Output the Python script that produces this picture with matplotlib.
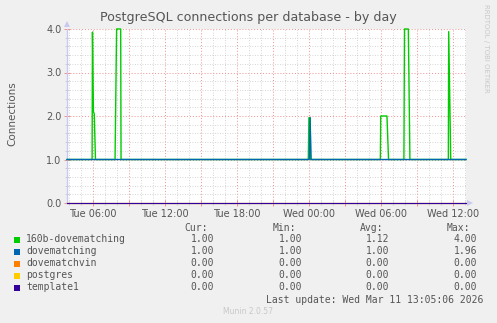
import numpy as np
import matplotlib
matplotlib.use("Agg")
from matplotlib import pyplot as plt

# time axis in hours from Tue 00:00
t_start = 3.83
t_end = 37.05

# 160b-dovematching (breakpoints)
green_t = [3.83, 5.92, 5.95, 6.03, 6.10, 6.20, 7.70, 7.75, 7.80, 7.83, 7.96, 8.30, 8.33, 8.42,
           23.92, 23.97, 24.07, 24.12, 29.92, 29.95, 30.47, 30.60,
           31.88, 31.93, 32.25, 32.38, 35.58, 35.61, 35.78, 37.05]
green_v = [1.0, 1.0, 3.93, 2.1, 2.05, 1.0, 1.0, np.nan, np.nan, 1.0, 4.0, 4.0, 1.0, 1.0,
           1.0, 1.96, 1.96, 1.0, 1.0, 2.0, 2.0, 1.0,
           1.0, 4.0, 4.0, 1.0, 1.0, 3.94, 1.0, 1.0]
# dovematching
blue_t = [3.83, 7.70, 7.75, 7.80, 7.83, 24.00, 24.07, 24.15, 37.05]
blue_v = [1.0, 1.0, np.nan, np.nan, 1.0, 1.0, 1.96, 1.0, 1.0]
# the three idle databases
zero_t = [3.83, 37.05]
zero_v = [0.0, 0.0]

names = ["160b-dovematching", "dovematching", "dovematchvin", "postgres", "template1"]
colors = ["#00CC00", "#0066B3", "#FF8000", "#FFCC00", "#330099"]
cur = ["1.00", "1.00", "0.00", "0.00", "0.00"]
mins = ["1.00", "1.00", "0.00", "0.00", "0.00"]
avgs = ["1.12", "1.00", "0.00", "0.00", "0.00"]
maxs = ["4.00", "1.96", "0.00", "0.00", "0.00"]

xtick_pos = [6, 12, 18, 24, 30, 36]
xtick_lab = ["Tue 06:00", "Tue 12:00", "Tue 18:00", "Wed 00:00", "Wed 06:00", "Wed 12:00"]

W, H = 497, 323
fig = plt.figure(figsize=(W / 100, H / 100), dpi=100, facecolor="#F0F0F0")
L, R, T, B = 67, 466, 29, 203
ax = fig.add_axes([L / W, 1 - B / H, (R - L) / W, (B - T) / H], facecolor="white")

txt = "#555555"

ax.set_xlim(t_start, t_end)
ax.set_ylim(0, 4.0)

# grid
ax.set_xticks(np.arange(6, 37, 3))
ax.set_xticks(np.arange(4, 38, 1), minor=True)
ax.set_yticks([0, 1, 2, 3, 4])
ax.set_yticks(np.arange(0, 4.01, 0.2), minor=True)
ax.grid(which="minor", color="#C8C8C8", linestyle=(0, (1, 2)), linewidth=0.6)
ax.grid(which="major", color="#F09090", linestyle=(0, (1, 2)), linewidth=0.7)
ax.set_axisbelow(True)

labs = []
for p in np.arange(6, 37, 3):
    labs.append(xtick_lab[xtick_pos.index(p)] if p in xtick_pos else "")
ax.set_xticklabels(labs)
ax.set_yticklabels(["0.0", "1.0", "2.0", "3.0", "4.0"])
ax.tick_params(axis="both", which="both", labelsize=7, labelcolor=txt, pad=2)
ax.tick_params(axis="x", which="major", color="#F09090", length=4, direction="inout", width=0.7)
ax.tick_params(axis="y", which="major", color="#F09090", length=4, direction="inout", width=0.7)
ax.tick_params(axis="both", which="minor", color="#C8C8C8", length=3, direction="inout", width=0.6)

for s in ["top", "right"]:
    ax.spines[s].set_visible(False)
for s in ["left", "bottom"]:
    ax.spines[s].set_color("#C8C8F0")
    ax.spines[s].set_linewidth(1)

# data lines
ax.plot(green_t, green_v, color=colors[0], linewidth=1, clip_on=False, zorder=3)
ax.plot(blue_t, blue_v, color=colors[1], linewidth=1, clip_on=False, zorder=4)
for i, c in enumerate(colors[2:]):
    ax.plot(zero_t, zero_v, color=c, linewidth=0.8, clip_on=False, zorder=3 + 0.1 * i)

# axis arrows
fig.patches.append(plt.Polygon([[(L - 3) / W, 1 - (T - 2) / H], [(L + 3) / W, 1 - (T - 2) / H],
                                [L / W, 1 - (T - 8) / H]], closed=True, transform=fig.transFigure,
                               facecolor="#C8C8F0", edgecolor="none"))
fig.patches.append(plt.Polygon([[(R + 1) / W, 1 - (B - 3) / H], [(R + 1) / W, 1 - (B + 3) / H],
                                [(R + 7) / W, 1 - B / H]], closed=True, transform=fig.transFigure,
                               facecolor="#C8C8F0", edgecolor="none"))

def ft(x, y, s, **kw):
    fig.text(x / W, 1 - y / H, s, **kw)

ft(248, 18, "PostgreSQL connections per database - by day", ha="center", va="center",
   fontsize=9.1, color=txt)
ft(12, 114, "Connections", rotation=90, ha="center", va="center", fontsize=7.5, color=txt)
ft(486, 4, "RRDTOOL / TOBI OETIKER", rotation=270, ha="center", va="top", fontsize=5, color="#C8C8C8")

mono = dict(family="DejaVu Sans Mono", fontsize=7, color=txt, va="center")
col_x = [214, 302, 389, 477]
head_x = [208, 296, 383, 470]
for hx, h in zip(head_x, ["Cur:", "Min:", "Avg:", "Max:"]):
    ft(hx, 228, h, ha="right", **mono)
for i, n in enumerate(names):
    y = 239.5 + 12 * i
    fig.patches.append(plt.Rectangle((14 / W, 1 - (y + 3) / H), 6 / W, 6 / H,
                                     transform=fig.transFigure, facecolor=colors[i], edgecolor="none"))
    ft(26, y, n, ha="left", **mono)
    for cx, v in zip(col_x, [cur[i], mins[i], avgs[i], maxs[i]]):
        ft(cx, y, v, ha="right", **mono)
ft(483, 300, "Last update: Wed Mar 11 13:05:06 2026", ha="right", **mono)
ft(248, 312, "Munin 2.0.57", ha="center", va="center", fontsize=5.5, color="#C8C8C8")

fig.savefig("out.png", dpi=100, facecolor=fig.get_facecolor())
